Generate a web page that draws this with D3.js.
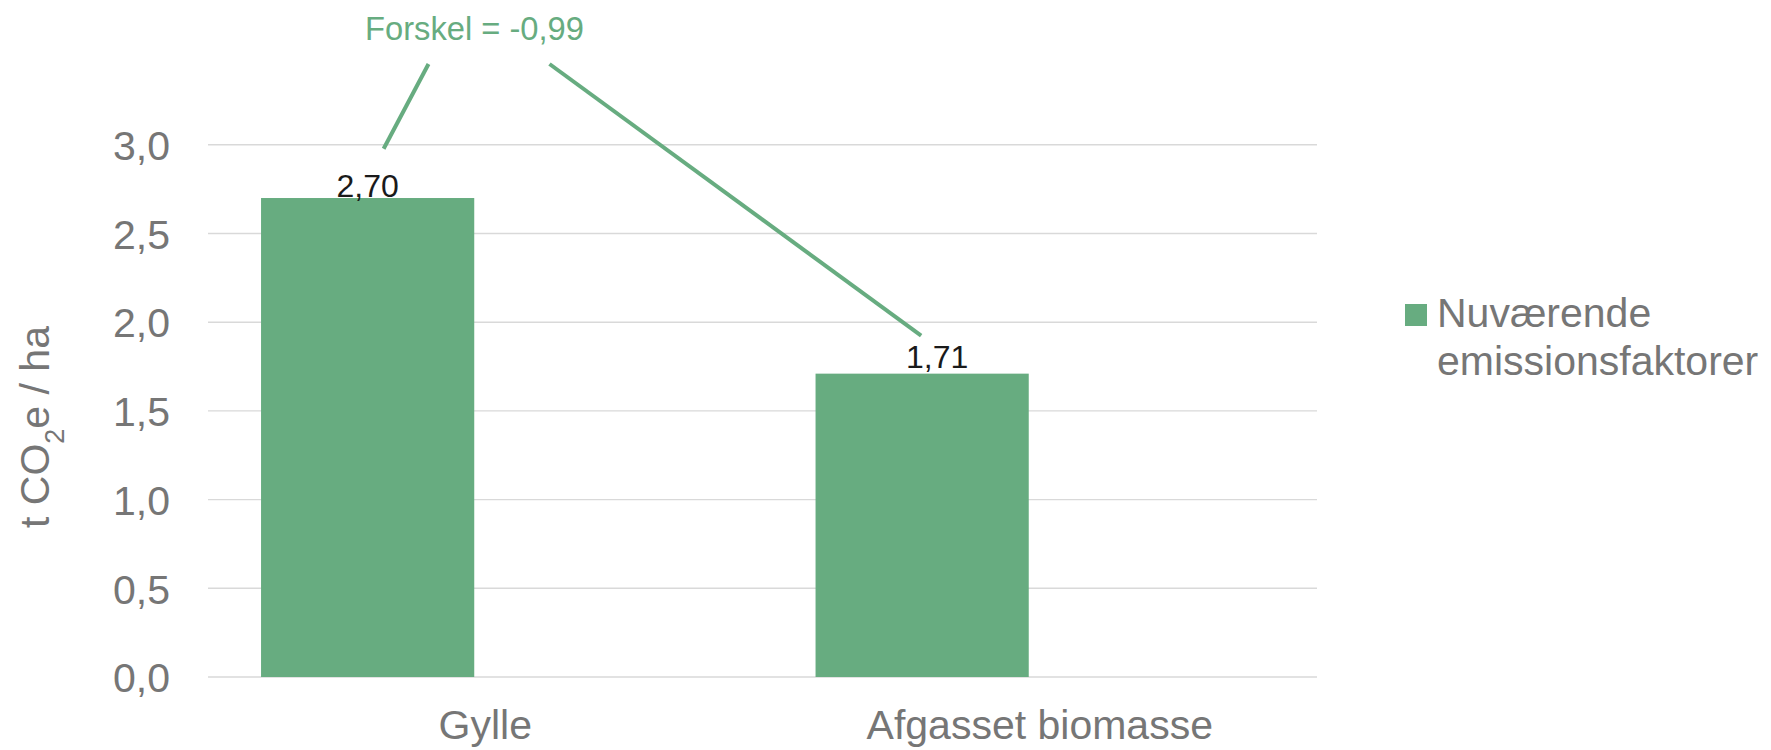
<!DOCTYPE html>
<html>
<head>
<meta charset="utf-8">
<script src="https://cdn.jsdelivr.net/npm/d3@7"></script>
<style>
  html, body { margin: 0; padding: 0; background: #fff; }
  svg { display: block; font-family: "Liberation Sans", Arial, sans-serif; }
</style>
</head>
<body>
<svg id="chart" width="1771" height="750"></svg>
<script>
// ---- data ----
const categories = ["Gylle", "Afgasset biomasse"];
const seriesNames = ["Nuværende emissionsfaktorer", "Ny"];
const currentValues = [2.70, 1.71];
const valueLabels = ["2,70", "1,71"];
const yTicks = [0, 0.5, 1.0, 1.5, 2.0, 2.5, 3.0];
const yTickLabels = ["0,0", "0,5", "1,0", "1,5", "2,0", "2,5", "3,0"];
const annotationText = "Forskel = -0,99";
const legendLines = ["Nuværende", "emissionsfaktorer"];

// ---- layout ----
const green = "#67AC80";
const gray = "#767676";
const plot = { left: 208, right: 1317, top: 144.8, bottom: 677 };

const svg = d3.select("#chart");

const x = d3.scaleBand().domain(categories).range([plot.left, plot.right]).padding(0);
const xInner = d3.scaleBand().domain(seriesNames).range([0, x.bandwidth()])
  .paddingInner(0.0936).paddingOuter(0.2255);
const y = d3.scaleLinear().domain([0, 3]).range([plot.bottom, plot.top]);

// gridlines
svg.append("g").selectAll("line").data(yTicks).join("line")
  .attr("x1", plot.left).attr("x2", plot.right)
  .attr("y1", d => y(d)).attr("y2", d => y(d))
  .attr("stroke", "#d9d9d9").attr("stroke-width", 1.4);

// y axis tick labels
const yAxis = d3.axisLeft(y).tickValues(yTicks)
  .tickFormat((d, i) => yTickLabels[i]).tickSize(0).tickPadding(38);
const gy = svg.append("g").attr("transform", `translate(${plot.left},0)`).call(yAxis);
gy.select(".domain").remove();
gy.selectAll("text").attr("fill", gray).style("font-size", "41px")
  .style("font-family", "Liberation Sans, Arial, sans-serif").attr("dy", "0.36em");

// x axis labels
const xAxis = d3.axisBottom(x).tickSize(0).tickPadding(0);
const gx = svg.append("g").attr("transform", `translate(0,${plot.bottom})`).call(xAxis);
gx.select(".domain").remove();
gx.selectAll("text").attr("fill", gray).style("font-size", "41px")
  .style("font-family", "Liberation Sans, Arial, sans-serif")
  .attr("y", 62).attr("dy", 0);

// bars
const barX = i => x(categories[i]) + xInner(seriesNames[0]);
svg.append("g").selectAll("rect").data(currentValues).join("rect")
  .attr("x", (d, i) => barX(i))
  .attr("width", xInner.bandwidth())
  .attr("y", d => y(d))
  .attr("height", d => y(0) - y(d))
  .attr("fill", green);

// value labels
const labelDx = [0, 15];
const labelDy = [-1, -6];
svg.append("g").selectAll("text").data(currentValues).join("text")
  .attr("x", (d, i) => barX(i) + xInner.bandwidth() / 2 + labelDx[i])
  .attr("y", (d, i) => y(d) + labelDy[i])
  .attr("text-anchor", "middle")
  .attr("fill", "#1a1a1a")
  .style("font-size", "32px")
  .text((d, i) => valueLabels[i]);

// annotation
const annX = 474.5, annY = 40;
svg.append("text").attr("x", annX).attr("y", annY)
  .attr("text-anchor", "middle").attr("fill", green)
  .style("font-size", "32.7px").text(annotationText);

const c0 = barX(0) + xInner.bandwidth() / 2;
const c1 = barX(1) + xInner.bandwidth() / 2;
const ann = svg.append("g").attr("stroke", green).attr("stroke-width", 4).attr("fill", "none");
ann.append("line").attr("x1", annX - 46).attr("y1", 64)
  .attr("x2", c0 + 16).attr("y2", y(3.0) + 4);
ann.append("line").attr("x1", annX + 75).attr("y1", 64)
  .attr("x2", c1 - 1).attr("y2", y(currentValues[1]) - 38);

// y axis title
svg.append("text")
  .attr("transform", "translate(49,427) rotate(-90)")
  .attr("text-anchor", "middle").attr("fill", gray).style("font-size", "41px")
  .call(t => {
    t.append("tspan").text("t CO");
    t.append("tspan").attr("baseline-shift", "sub").style("font-size", "27px").text("2");
    t.append("tspan").text("e / ha");
  });

// legend
const lg = svg.append("g");
lg.append("rect").attr("x", 1405).attr("y", 304).attr("width", 22).attr("height", 22).attr("fill", green);
lg.selectAll("text").data(legendLines).join("text")
  .attr("x", 1437).attr("y", (d, i) => 327 + i * 48)
  .attr("fill", gray).style("font-size", "41px").text(d => d);
</script>
</body>
</html>
